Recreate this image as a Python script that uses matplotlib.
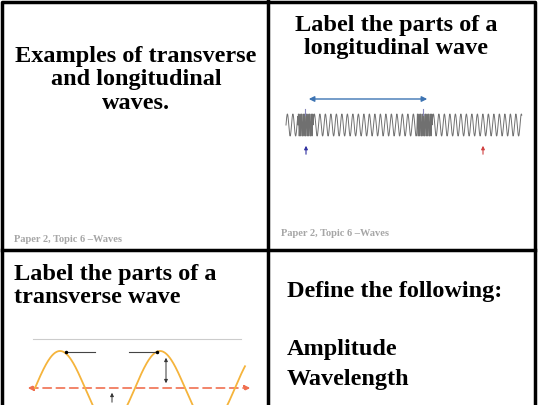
import numpy as np
import matplotlib
matplotlib.use("Agg")
import matplotlib.pyplot as plt
from matplotlib.patches import FancyArrowPatch

titles = ["Examples of transverse\nand longitudinal\nwaves.", "Label the parts of a\nlongitudinal wave",
          "Label the parts of a\ntransverse wave", "Define the following:\n\nAmplitude\nWavelength"]
footer = "Paper 2, Topic 6 \u2013Waves"
# spring regions: (start, end, coil pitch)
spring_regions = [(286, 298, 5.5), (298, 313, 1.6), (313, 417, 5.5), (417, 432, 1.6), (432, 522, 5.5)]
wave_crests_x = [60, 160]

fig = plt.figure(figsize=(5.4, 4.05), dpi=100)
ax = fig.add_axes([0, 0, 1, 1])
ax.set_xlim(0, 540); ax.set_ylim(405, 0); ax.axis("off")
serif = "Liberation Serif"
fs = 17.5

kw = dict(color="black", lw=2.5)
ax.plot([2, 2, 535, 535], [405, 2, 2, 405], **kw)
ax.plot([268, 268], [0, 405], **kw)
ax.plot([2, 535], [250, 250], **kw)

ax.text(136, 80, titles[0], ha="center", va="center", fontsize=fs, fontweight="bold", family=serif, linespacing=1.15)
ax.text(396, 37, titles[1], ha="center", va="center", fontsize=fs, fontweight="bold", family=serif, linespacing=1.15)
ax.text(14, 286, titles[2], ha="left", va="center", fontsize=fs, fontweight="bold", family=serif, linespacing=1.15)
ax.text(287, 292, titles[3].split("\n")[0], ha="left", va="center", fontsize=fs, fontweight="bold", family=serif)
ax.text(287, 350, "Amplitude", ha="left", va="center", fontsize=fs, fontweight="bold", family=serif)
ax.text(287, 380, "Wavelength", ha="left", va="center", fontsize=fs, fontweight="bold", family=serif)
ax.text(14, 240, footer, fontsize=7.5, fontweight="bold", family=serif, color="#a6a6a6", va="center")
ax.text(281, 234, footer, fontsize=7.5, fontweight="bold", family=serif, color="#a6a6a6", va="center")

# spring (side view of coils)
xs, ys = [], []
for a, b, p in spring_regions:
    t = np.linspace(0, (b - a) / p, max(int((b - a) / p * 24), 2), endpoint=False)
    xs.append(a + t * p)
    ys.append(125 - 11 * np.sin(2 * np.pi * t))
ax.plot(np.concatenate(xs), np.concatenate(ys), color="#707070", lw=0.7)
ax.add_patch(FancyArrowPatch((306, 99), (430, 99), arrowstyle="<|-|>", mutation_scale=8, color="#3d74b3", lw=1))
for x in (305, 423):
    ax.plot([x, x], [109, 115], color="#8888bb", lw=0.8)
ax.add_patch(FancyArrowPatch((306, 157), (306, 143), arrowstyle="-|>", mutation_scale=5, color="#3030a0", lw=0.8))
ax.add_patch(FancyArrowPatch((483, 157), (483, 143), arrowstyle="-|>", mutation_scale=5, color="#d04040", lw=0.8))

# transverse wave
ax.plot([33, 241], [339, 339], color="#cccccc", lw=0.8)
ax.add_patch(FancyArrowPatch((25, 388), (253, 388), arrowstyle="<|-|>", mutation_scale=8, color="#f07050", lw=1.2, linestyle=(0, (5, 3))))
period = wave_crests_x[1] - wave_crests_x[0]
x = np.linspace(35, 245, 400)
ax.plot(x, 388 - 37 * np.sin(2 * np.pi * (x - 35) / period), color="#f5b43c", lw=1.3)
ax.plot([66, 95], [352, 352], color="#444444", lw=0.8); ax.plot(66, 352, "k.", ms=3)
ax.plot([129, 157], [352, 352], color="#444444", lw=0.8); ax.plot(157, 352, "k.", ms=3)
ax.add_patch(FancyArrowPatch((166, 355), (166, 386), arrowstyle="<|-|>", mutation_scale=5, color="#333333", lw=0.7))
ax.add_patch(FancyArrowPatch((112, 405), (112, 390), arrowstyle="-|>", mutation_scale=5, color="#333333", lw=0.7))

fig.savefig("out.png", dpi=100)
